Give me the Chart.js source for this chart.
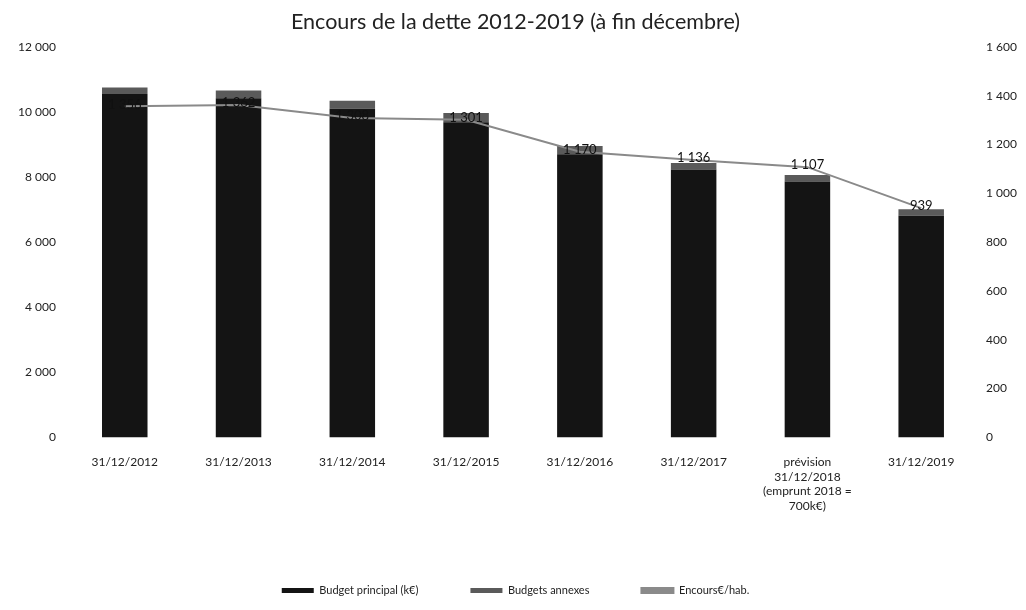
<!DOCTYPE html>
<html>
<head>
<meta charset="utf-8">
<script src="https://cdn.jsdelivr.net/npm/chart.js@4"></script>
<style>
  html, body { margin: 0; padding: 0; background: #fff; }
  #wrap { width: 1026px; height: 610px; }
</style>
</head>
<body>
<div id="wrap"><canvas id="chart" width="1026" height="610"></canvas></div>
<script>
// Encours de la dette
const categories = [
  '31/12/2012', '31/12/2013', '31/12/2014', '31/12/2015', '31/12/2016', '31/12/2017',
  ['prévision', '31/12/2018', '(emprunt 2018 =', '700k€)'], '31/12/2019',
];
const budgetPrincipal = [10550, 10420, 10100, 9680, 8700, 8230, 7860, 6810];
const budgetsAnnexes = [200, 240, 240, 290, 250, 200, 200, 200];
const encoursParHab = [1356, 1362, 1308, 1301, 1170, 1136, 1107, 939];
const leftTicks = [0, 2000, 4000, 6000, 8000, 10000, 12000];
const rightTicks = [0, 200, 400, 600, 800, 1000, 1200, 1400, 1600];

const FONT = 'Lato, "Open Sans", sans-serif';

function fmt(n) {
  return String(n).replace(/\B(?=(\d{3})+(?!\d))/g, ' ');
}

// draws the value labels on the line points
const lineLabels = {
  id: 'lineLabels',
  afterDatasetsDraw(chart) {
    const meta = chart.getDatasetMeta(2);
    const ctx = chart.ctx;
    ctx.save();
    ctx.font = '13px ' + FONT;
    ctx.fillStyle = '#111';
    ctx.textAlign = 'center';
    ctx.textBaseline = 'middle';
    meta.data.forEach((pt, i) => {
      ctx.fillText(fmt(encoursParHab[i]), pt.x, pt.y - 2);
    });
    ctx.restore();
  },
};

new Chart(document.getElementById('chart').getContext('2d'), {
  data: {
    labels: categories,
    datasets: [
      {
        type: 'bar',
        label: 'Budget principal (k€)',
        data: budgetPrincipal,
        backgroundColor: '#141414',
        yAxisID: 'y',
        stack: 's',
        order: 2,
      },
      {
        type: 'bar',
        label: 'Budgets annexes',
        data: budgetsAnnexes,
        backgroundColor: '#5a5a5a',
        yAxisID: 'y',
        stack: 's',
        order: 2,
      },
      {
        type: 'line',
        label: 'Encours€/hab.',
        data: encoursParHab,
        borderColor: '#8a8a8a',
        backgroundColor: '#8a8a8a',
        borderWidth: 2,
        pointRadius: 0,
        tension: 0,
        yAxisID: 'y1',
        order: 1,
      },
    ],
  },
  options: {
    responsive: false,
    animation: false,
    layout: { padding: { left: 6, right: 1, top: 6, bottom: 4 } },
    datasets: { bar: { barPercentage: 0.4, categoryPercentage: 1 } },
    plugins: {
      title: {
        display: true,
        text: 'Encours de la dette 2012-2019 (à fin décembre)',
        color: '#222',
        font: { family: FONT, size: 21.5, weight: 'normal' },
        padding: { top: 3, bottom: 12 },
      },
      legend: {
        position: 'bottom',
        labels: {
          color: '#222',
          font: { family: FONT, size: 11 },
          boxWidth: 32,
          boxHeight: 5,
          padding: 52,
          sort: (a, b) => a.datasetIndex - b.datasetIndex,
        },
      },
      tooltip: { enabled: false },
    },
    scales: {
      x: {
        grid: { display: false, drawTicks: false },
        border: { display: false },
        ticks: { color: '#222', font: { family: FONT, size: 12 }, maxRotation: 0, autoSkip: false, padding: 18 },
        afterFit: (axis) => { axis.height += 2; },
      },
      y: {
        position: 'left',
        stacked: true,
        min: 0,
        max: 12000,
        afterBuildTicks: (axis) => { axis.ticks = leftTicks.map((v) => ({ value: v })); },
        grid: { display: false, drawTicks: false },
        border: { display: false },
        ticks: { color: '#222', font: { family: FONT, size: 12 }, padding: 12, callback: (v) => fmt(v) },
      },
      y1: {
        position: 'right',
        min: 0,
        max: 1600,
        afterBuildTicks: (axis) => { axis.ticks = rightTicks.map((v) => ({ value: v })); },
        grid: { display: false, drawTicks: false },
        border: { display: false },
        ticks: { color: '#222', font: { family: FONT, size: 12 }, padding: 8, callback: (v) => fmt(v) },
      },
    },
  },
  plugins: [lineLabels],
});
</script>
</body>
</html>
